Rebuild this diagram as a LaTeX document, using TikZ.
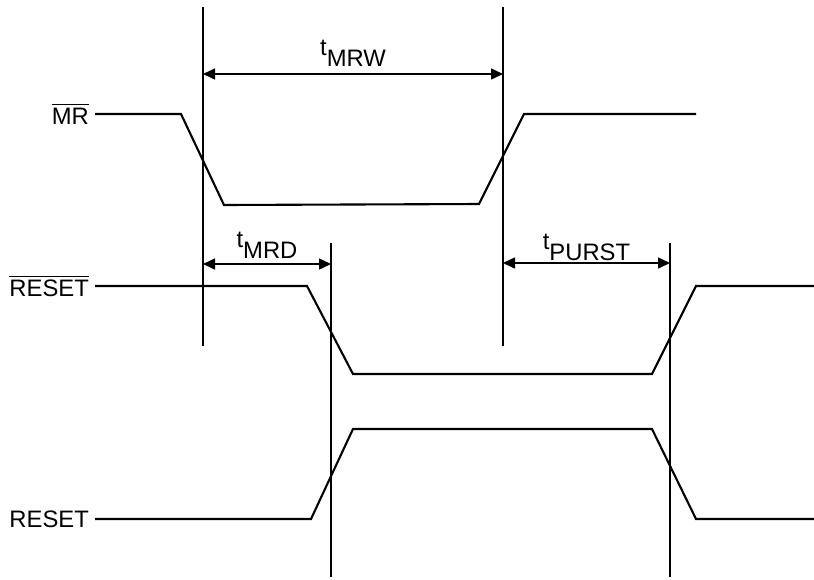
\documentclass[tikz,border=0pt]{standalone}
\usepackage{fontspec}
\setmainfont{Liberation Sans}
\usetikzlibrary{arrows.meta}

\newcommand\negsig[1]{\leavevmode\vbox{\hrule height 1.3pt \kern 2.6pt \hbox{#1}}}
\newcommand\tsub[1]{t\raisebox{-11pt}{#1}}

\begin{document}
\begin{tikzpicture}[x=1pt,y=-1pt,
    wave/.style={line width=2.1pt, line join=miter},
    marker/.style={line width=2.2pt},
    dimline/.style={line width=1.5pt, {Triangle[length=12pt,width=11pt]}-{Triangle[length=12pt,width=11pt]}},
    signame/.style={anchor=east, inner sep=0pt, font=\fontsize{23.8}{28}\selectfont},
    dimlabel/.style={anchor=base, inner sep=0pt, font=\fontsize{23.8}{28}\selectfont}]

        \useasboundingbox (0,0) rectangle (814,579);

        % time markers
        \draw[marker] (203,7) coordinate (mrfall) -- (203,346);
        \draw[marker] (503,7) coordinate (mrrise) -- (503,346);
        \draw[marker] (331,243) coordinate (rstfall) -- (331,577);
        \draw[marker] (670,243) coordinate (rstrise) -- (670,577);

        % signal names
        \node[signame] (mr) at (89,114) {\negsig{MR}};
        \node[signame] (resetn) at (89,286) {\negsig{RESET}};
        \node[signame] (reset) at (89,519) {RESET};

        % waveforms
        \draw[wave] ([xshift=6pt]mr.east) -- (181,114) -- (224,205) -- (479,204) -- (524,114) -- (696,114);
        \draw[wave] ([xshift=6pt]resetn.east) -- (307,286) -- (353,374) -- (652,374) -- (696,286) -- (814,286);
        \draw[wave] ([xshift=6pt]reset.east) -- (311,519) -- (353,429) -- (652,429) -- (696,519) -- (814,519);

        % timing parameters
        \begin{scope}
          \draw[dimline] (mrfall |- 0,74) -- (mrrise |- 0,74) node[dimlabel, pos=0.5, yshift=19pt] (tmrw) {\tsub{MRW}};
          \draw[dimline] (mrfall |- 0,264) -- (rstfall |- 0,264) node[dimlabel, pos=0.5, yshift=17pt] (tmrd) {\tsub{MRD}};
          \draw[dimline] (mrrise |- 0,263) -- (rstrise |- 0,263) node[dimlabel, pos=0.5, yshift=14pt] (tpurst) {\tsub{PURST}};
        \end{scope}

    \end{tikzpicture}
\end{document}
